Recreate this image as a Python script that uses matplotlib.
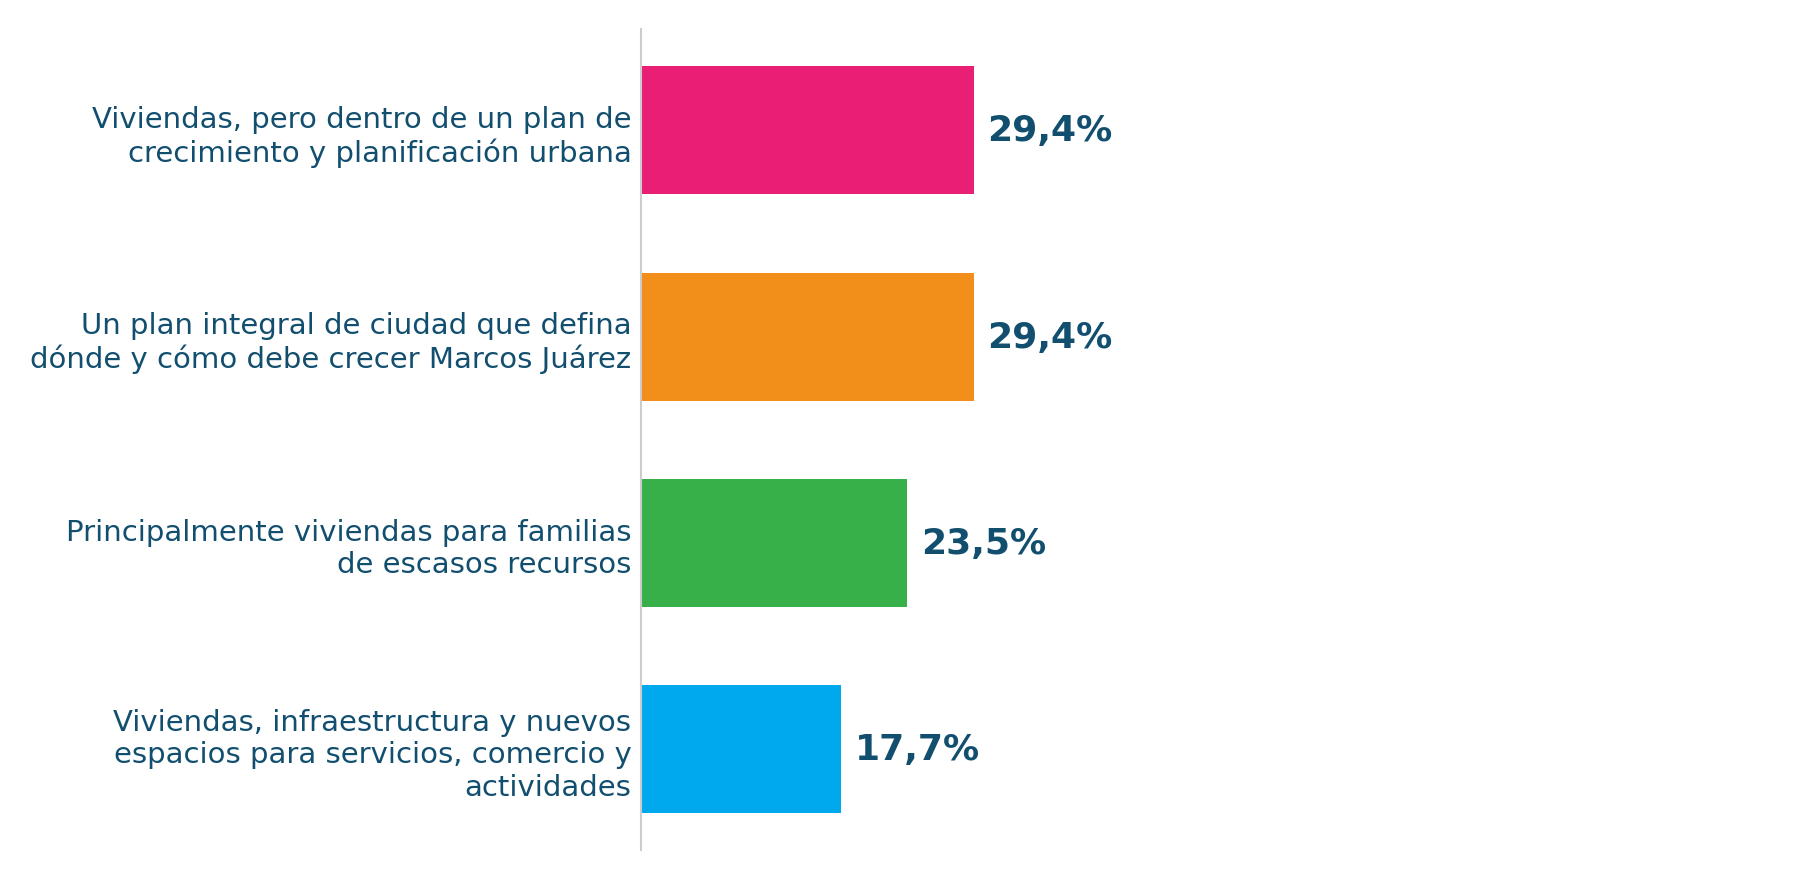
import matplotlib.pyplot as plt

categories = [
    'Viviendas, pero dentro de un plan de\ncrecimiento y planificación urbana',
    'Un plan integral de ciudad que defina\ndónde y cómo debe crecer Marcos Juárez',
    'Principalmente viviendas para familias\nde escasos recursos',
    'Viviendas, infraestructura y nuevos\nespacios para servicios, comercio y\nactividades',
]
values = [29.4, 29.4, 23.5, 17.7]
value_labels = ['29,4%', '29,4%', '23,5%', '17,7%']
colors = ['#E91F76', '#F18F1A', '#38B04A', '#00A8EE']

text_color = '#124F6F'

fig, ax = plt.subplots(figsize=(18, 8.79), dpi=100)
fig.subplots_adjust(left=0.3562, right=0.985, top=0.9655, bottom=0.0315)

y = list(range(len(categories)))
ax.barh(y, values, height=0.62, color=colors)
for yi, v, lab in zip(y, values, value_labels):
    ax.text(v + 1.2, yi, lab, va='center', ha='left', fontsize=26,
            fontweight='bold', color=text_color)

ax.set_yticks(y)
ax.set_yticklabels(categories, fontsize=21, color=text_color)
ax.tick_params(axis='y', length=0, pad=7)
ax.set_xticks([])
ax.set_xlim(0, 100)
ax.set_ylim(3.49, -0.49)

for side in ['top', 'right', 'bottom']:
    ax.spines[side].set_visible(False)
ax.spines['left'].set_color('#CCCCCC')
ax.spines['left'].set_linewidth(1.5)

fig.savefig('out.png')
